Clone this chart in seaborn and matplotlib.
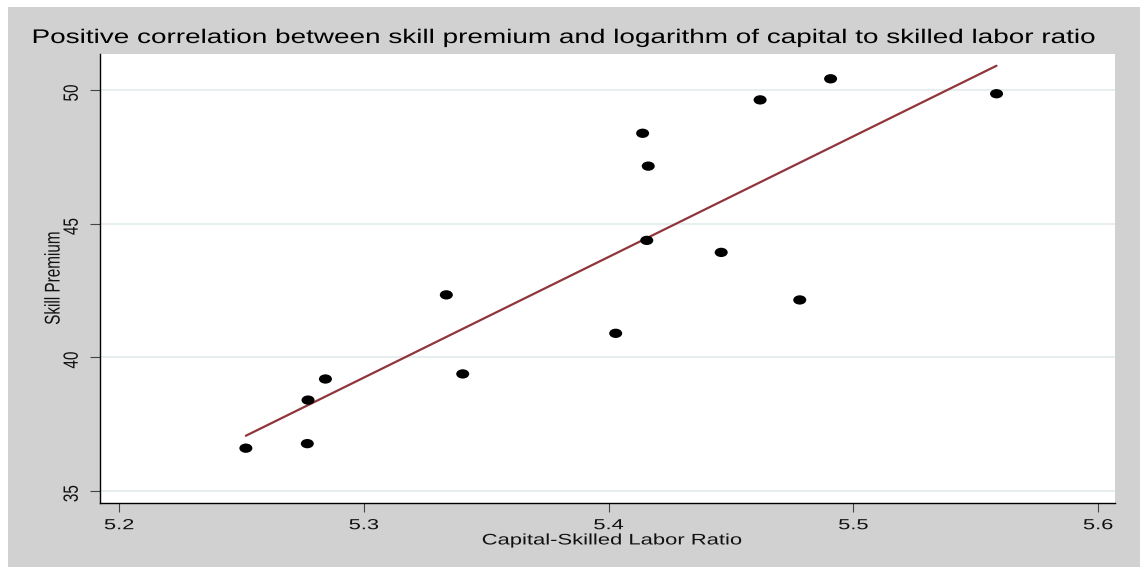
import matplotlib
matplotlib.use("Agg")
import matplotlib.pyplot as plt
import numpy as np
import pandas as pd
import seaborn as sns
from matplotlib.path import Path
from matplotlib.markers import MarkerStyle
from matplotlib.patches import Rectangle
from matplotlib.patheffects import AbstractPathEffect
from matplotlib.transforms import Affine2D

# Data: capital-skilled labor ratio (log) vs. skill premium
capital_skilled_ratio = [5.2518, 5.2769, 5.2772, 5.2843, 5.3337, 5.3404, 5.4029, 5.4139,
                         5.4162, 5.4156, 5.4460, 5.4619, 5.4781, 5.4907, 5.5585]
skill_premium = [36.59, 36.76, 38.39, 39.18, 42.33, 39.37, 40.89, 48.38,
                 47.15, 44.37, 43.92, 49.63, 42.14, 50.42, 49.86]
x_ticks = [5.2, 5.3, 5.4, 5.5, 5.6]
x_tick_labels = ["5.2", "5.3", "5.4", "5.5", "5.6"]
y_ticks = [35, 40, 45, 50]
y_tick_labels = ["35", "40", "45", "50"]
title_text = "Positive correlation between skill premium and logarithm of capital to skilled labor ratio"
x_label = "Capital-Skilled Labor Ratio"
y_label = "Skill Premium"

df = pd.DataFrame({"ratio": capital_skilled_ratio, "premium": skill_premium})


class Widen(AbstractPathEffect):
    """Draw text outlines scaled about their own centre (wide, Stata-like lettering)."""

    def __init__(self, sx=1.0, sy=1.0):
        super().__init__()
        self.sx, self.sy = sx, sy

    def draw_path(self, renderer, gc, tpath, affine, rgbFace=None):
        ext = tpath.get_extents()
        cx = 0.5 * (ext.x0 + ext.x1)
        cy = 0.5 * (ext.y0 + ext.y1)
        pre = Affine2D().translate(-cx, -cy).scale(self.sx, self.sy).translate(cx, cy)
        renderer.draw_path(gc, tpath, pre + affine, rgbFace)


sns.set_style("white")
plt.rcParams["font.family"] = ["Liberation Sans", "DejaVu Sans"]

W, H = 1140, 567
fig = plt.figure(figsize=(W / 100, H / 100), dpi=100)
fig.patch.set_facecolor("white")
fig.add_artist(Rectangle((8 / W, 0), 1 - 8 / W, 1 - 7 / H, transform=fig.transFigure,
                         facecolor="#d1d1d1", edgecolor="none", zorder=-10))

left, right, top, bottom = 100, 1115, 54, 502.5
ax = fig.add_axes([left / W, 1 - bottom / H, (right - left) / W, (bottom - top) / H])
ax.set_facecolor("white")

# Elliptical dot marker
ellipse = Path.unit_circle().transformed(Affine2D().scale(1.4, 1.0))
sns.scatterplot(data=df, x="ratio", y="premium", ax=ax, marker=MarkerStyle(ellipse),
                s=88, color="black", edgecolor="none", zorder=3)
sns.regplot(data=df, x="ratio", y="premium", ax=ax, scatter=False, ci=None,
            color="#90353b", line_kws={"lw": 1.6, "zorder": 2})

ax.set_xlim(5.1922, 5.6069)
ax.set_ylim(34.556, 51.348)
ax.set_xticks(x_ticks, x_tick_labels)
ax.set_yticks(y_ticks, y_tick_labels)

ax.grid(axis="y", color="#e7eef0", lw=1.4)
ax.grid(axis="x", visible=False)
ax.set_axisbelow(True)

for side in ("top", "right"):
    ax.spines[side].set_visible(False)
for side in ("left", "bottom"):
    ax.spines[side].set_color("black")
    ax.spines[side].set_linewidth(1.0)

ax.tick_params(axis="x", direction="out", length=6.3, width=0.8, color="#444444",
               pad=5, labelsize=10.5, labelcolor="#111111", bottom=True)
ax.tick_params(axis="y", direction="out", length=7.2, width=0.8, color="#444444",
               pad=8, labelsize=11, labelcolor="#111111", labelrotation=90, left=True)

for lbl in ax.get_xticklabels():
    lbl.set_path_effects([Widen(sx=1.5)])
for lbl in ax.get_yticklabels():
    lbl.set_path_effects([Widen(sy=1.35)])

ax.set_xlabel(x_label, fontsize=11, color="#111111")
ax.xaxis.set_label_coords(0.504, -0.069)
ax.xaxis.label.set_path_effects([Widen(sx=1.44)])
ax.set_ylabel(y_label, fontsize=11, color="#111111")
ax.yaxis.set_label_coords(-0.039, 0.5)
ax.yaxis.label.set_path_effects([Widen(sy=1.4)])

fig.text(566 / W, 1 - 43 / H, title_text, ha="center", va="baseline", fontsize=14.2,
         color="black", path_effects=[Widen(sx=1.415)])

fig.savefig("out.png", dpi=100)
